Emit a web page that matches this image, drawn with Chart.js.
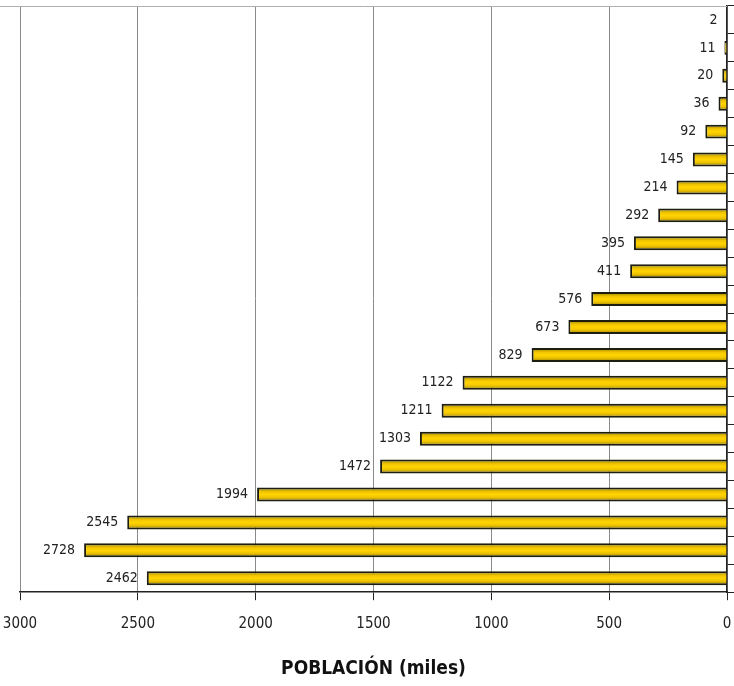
<!DOCTYPE html>
<html>
<head>
<meta charset="utf-8">
<script src="https://cdn.jsdelivr.net/npm/chart.js@4/dist/chart.umd.min.js"></script>
<style>
  html, body { margin: 0; padding: 0; background: #fff; }
  #wrap { width: 734px; height: 686px; }
</style>
</head>
<body>
<div id="wrap"><canvas id="chart"></canvas></div>
<script>
// categories are unnamed in the picture (top to bottom)
const categories = ['1', '2', '3', '4', '5', '6', '7', '8', '9', '10', '11',
  '12', '13', '14', '15', '16', '17', '18', '19', '20', '21'];
const population = [2, 11, 20, 36, 92, 145, 214, 292, 395, 411, 576,
  673, 829, 1122, 1211, 1303, 1472, 1994, 2545, 2728, 2462];
const xTicks = [0, 500, 1000, 1500, 2000, 2500, 3000];
const axisTitle = 'POBLACIÓN (miles)';

const fontFamily = '"DejaVu Sans Condensed", "DejaVu Sans", sans-serif';
const barPct = 0.5;

// vertical gold gradient for each bar, positioned from the y scale
function barFill(context) {
  const chart = context.chart;
  const y = chart.scales && chart.scales.y;
  if (!y || context.dataIndex === undefined) return '#EDBF00';
  const center = y.getPixelForValue(context.dataIndex);
  const half = (y.height / categories.length) * barPct / 2;
  if (!isFinite(center) || !isFinite(half) || half <= 0) return '#EDBF00';
  const g = chart.ctx.createLinearGradient(0, center - half, 0, center + half);
  g.addColorStop(0, '#8f7a00');
  g.addColorStop(0.3, '#f0c400');
  g.addColorStop(0.5, '#ffd400');
  g.addColorStop(0.7, '#f0c400');
  g.addColorStop(1, '#8f7a00');
  return g;
}

// value labels at the left end of each bar + top border line
const barLabels = {
  id: 'barLabels',
  afterDatasetsDraw(chart) {
    const ctx = chart.ctx;
    const area = chart.chartArea;
    ctx.save();
    ctx.strokeStyle = '#b0b0b0';
    ctx.lineWidth = 1;
    ctx.beginPath();
    ctx.moveTo(0, area.top + 0.5);
    ctx.lineTo(area.right, area.top + 0.5);
    ctx.stroke();

    ctx.font = '14px ' + fontFamily;
    ctx.fillStyle = '#222';
    ctx.textAlign = 'right';
    ctx.textBaseline = 'middle';
    const meta = chart.getDatasetMeta(0);
    meta.data.forEach((bar, i) => {
      ctx.fillText(String(population[i]), bar.x - 9, bar.y);
    });
    ctx.restore();
  }
};

new Chart(document.getElementById('chart'), {
  type: 'bar',
  data: {
    labels: categories,
    datasets: [{
      data: population,
      backgroundColor: barFill,
      borderColor: '#1e1e10',
      borderWidth: 2,
      barPercentage: barPct,
      categoryPercentage: 1
    }]
  },
  options: {
    indexAxis: 'y',
    responsive: true,
    maintainAspectRatio: false,
    animation: false,
    layout: { padding: { top: 6, left: 20, right: 0, bottom: 6 } },
    plugins: {
      legend: { display: false },
      tooltip: { enabled: false }
    },
    scales: {
      x: {
        reverse: true,
        min: 0,
        max: 3000,
        afterBuildTicks(scale) {
          scale.ticks = xTicks.map(v => ({ value: v }));
        },
        grid: {
          color: '#8a8a8a',
          lineWidth: 1,
          tickColor: '#222',
          tickLength: 8
        },
        border: { color: '#222', width: 1.5 },
        ticks: {
          color: '#222',
          padding: 15,
          maxRotation: 0,
          callback: v => String(v),
          font: { family: fontFamily, size: 15 }
        },
        title: {
          display: true,
          text: axisTitle,
          color: '#111',
          padding: { top: 9, bottom: 0 },
          font: { family: fontFamily, size: 19, weight: 'bold' }
        }
      },
      y: {
        position: 'right',
        grid: {
          drawOnChartArea: false,
          tickColor: '#222',
          tickLength: 7
        },
        border: { color: '#222', width: 1.5 },
        ticks: { display: false }
      }
    }
  },
  plugins: [barLabels]
});
</script>
</body>
</html>
